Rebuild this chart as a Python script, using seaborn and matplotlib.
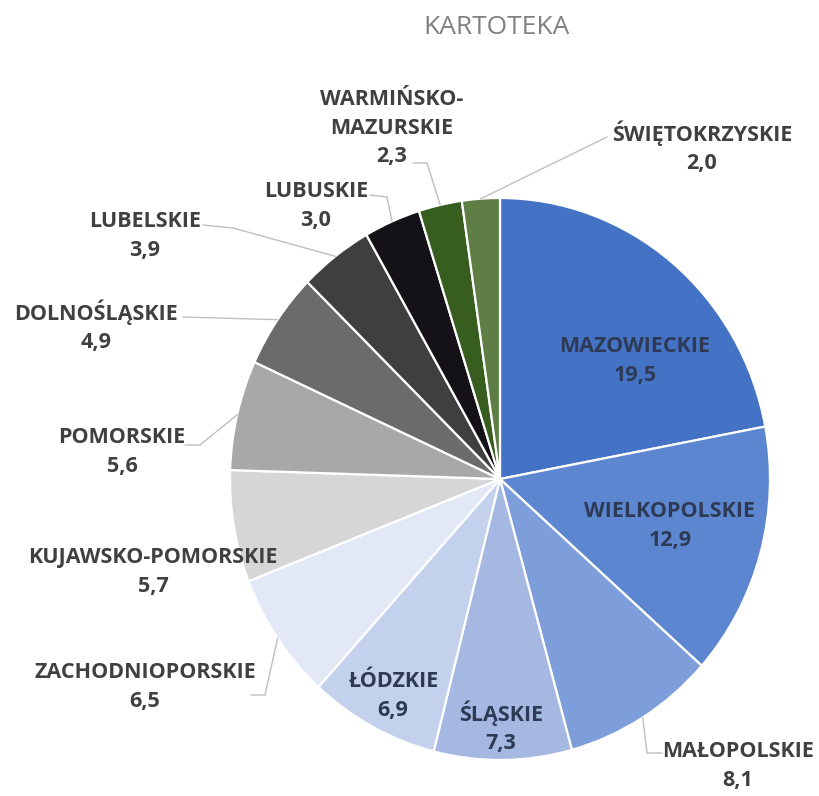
import numpy as np
import matplotlib.pyplot as plt
import seaborn as sns

sns.set_theme(style="white")
plt.rcParams["font.family"] = ["Open Sans", "DejaVu Sans"]

regions = ["MAZOWIECKIE", "WIELKOPOLSKIE", "MAŁOPOLSKIE", "ŚLĄSKIE", "ŁÓDZKIE",
           "ZACHODNIOPORSKIE", "KUJAWSKO-POMORSKIE", "POMORSKIE", "DOLNOŚLĄSKIE",
           "LUBELSKIE", "LUBUSKIE", "WARMIŃSKO-\nMAZURSKIE", "ŚWIĘTOKRZYSKIE"]
values = [19.5, 12.9, 8.1, 7.3, 6.9, 6.5, 5.7, 5.6, 4.9, 3.9, 3.0, 2.3, 2.0]
value_labels = ["19,5", "12,9", "8,1", "7,3", "6,9", "6,5", "5,7", "5,6", "4,9",
                "3,9", "3,0", "2,3", "2,0"]
colors = ["#4472C4", "#5C87D0", "#7D9EDB", "#A4B8E2", "#C4D1EC", "#E2E8F5",
          "#D6D6D6", "#A8A8A8", "#6B6B6B", "#3F3F3F", "#141216", "#375E1F",
          "#5E7E45"]

# layout: pixel positions of label centres and leader elbows
CX, CY, SX, SY = 500, 479, 270, 281


def px(x, y):
    return (x - CX) / SX, (CY - y) / SY


label_pos = [(635, 361), (670, 526), (738, 766), (501, 727), (393, 696),
             (145, 687), (153, 572), (122, 452), (96, 326), (145, 236),
             (316, 206), (392, 128), (702, 147)]
inside = [True, True, False, True, True, False, False, False, False,
          False, False, False, False]
leaders = {2: [(662, 753), (647, 753)], 5: [(251, 695), (265, 695)],
           7: [(185, 445), (200, 445)], 8: [(183, 317)],
           9: [(203, 225), (233, 228)], 10: [(370, 195), (387, 197)],
           11: [(413, 163), (427, 163)], 12: [(607, 137)]}

fig = plt.figure(figsize=(8.2, 7.96), dpi=100)
ax = fig.add_axes([0, 0, 1, 1])
wedges, _ = ax.pie(values, colors=colors, startangle=90, counterclock=False,
                   radius=1, wedgeprops=dict(edgecolor="white", linewidth=1.6))
ax.set_aspect("auto")
ax.set_xlim(px(0, 0)[0], px(820, 0)[0])
ax.set_ylim(px(0, 796)[1], px(0, 0)[1])
ax.axis("off")

for i, w in enumerate(wedges):
    x, y = px(*label_pos[i])
    txt = regions[i] + "\n" + value_labels[i]
    col = "#2E3A55" if inside[i] else "#404040"
    ax.text(x, y, txt, ha="center", va="center", fontsize=15.5,
            fontweight="bold", color=col, linespacing=1.45)
    if i in leaders:
        mid = np.deg2rad((w.theta1 + w.theta2) / 2)
        pts = [px(*p) for p in leaders[i]] + [(np.cos(mid), np.sin(mid))]
        ax.plot([p[0] for p in pts], [p[1] for p in pts], color="#BFBFBF",
                lw=1.0, solid_joinstyle="miter")

fig.text(497 / 820, 1 - 27 / 796, "KARTOTEKA", ha="center", va="center",
         fontsize=19, color="#808080")

fig.savefig("out.png", dpi=100)
